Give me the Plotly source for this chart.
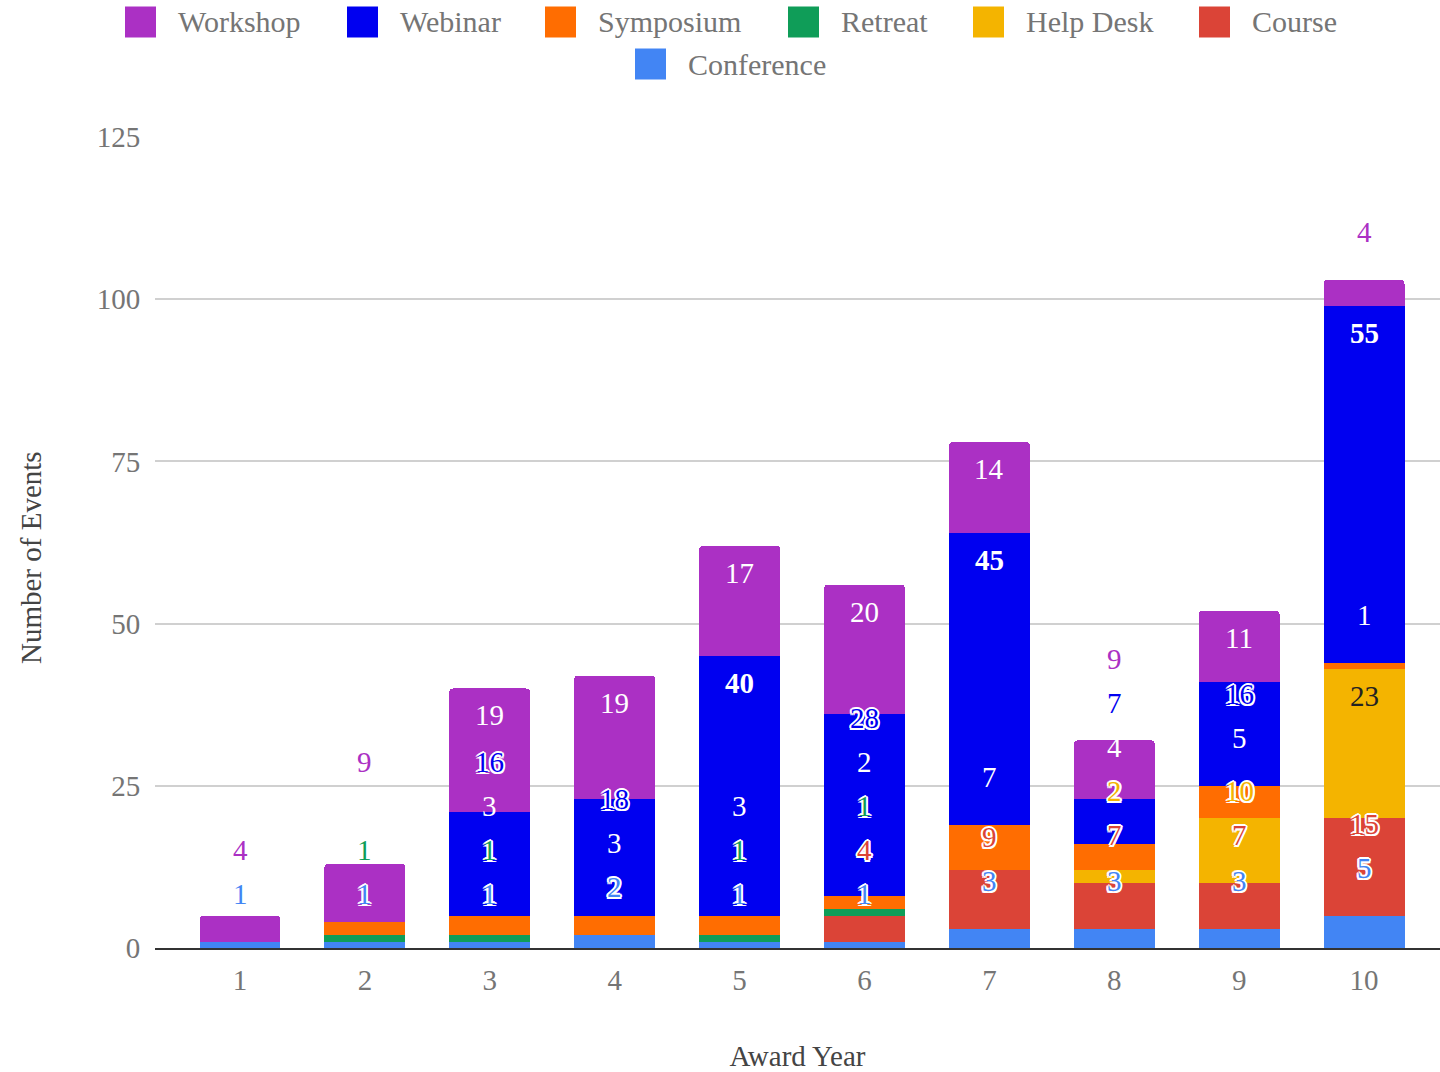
import plotly.graph_objects as go

# ---------------- data ----------------
years = [1, 2, 3, 4, 5, 6, 7, 8, 9, 10]
year_labels = ["1", "2", "3", "4", "5", "6", "7", "8", "9", "10"]

# stacking order: bottom -> top
series_names = ["Conference", "Course", "Help Desk", "Retreat", "Symposium", "Webinar", "Workshop"]
conference = [1, 1, 1, 2, 1, 1, 3, 3, 3, 5]
course     = [0, 0, 0, 0, 0, 4, 9, 7, 7, 15]
help_desk  = [0, 0, 0, 0, 0, 0, 0, 2, 10, 23]
retreat    = [0, 1, 1, 0, 1, 1, 0, 0, 0, 0]
symposium  = [0, 2, 3, 3, 3, 2, 7, 4, 5, 1]
webinar    = [0, 0, 16, 18, 40, 28, 45, 7, 16, 55]
workshop   = [4, 9, 19, 19, 17, 20, 14, 9, 11, 4]
series_values = [conference, course, help_desk, retreat, symposium, webinar, workshop]

y_ticks = [0, 25, 50, 75, 100, 125]
legend_order = ["Workshop", "Webinar", "Symposium", "Retreat", "Help Desk", "Course", "Conference"]

# ---------------- styles ----------------
colors = {
    "Conference": "#4285F4",
    "Course": "#DB4437",
    "Help Desk": "#F4B400",
    "Retreat": "#0F9D58",
    "Symposium": "#FF6D01",
    "Webinar": "#0000F0",
    "Workshop": "#AB30C4",
}
outside_label_color = dict(colors)
outside_label_color["Symposium"] = "#FFFFFF"
inside_label_color = {k: "#FFFFFF" for k in colors}
inside_label_color["Help Desk"] = "#222222"
no_halo = {"Symposium"}
bold_inside = {"Webinar"}

FONT = "Liberation Serif"
W, H = 1440, 1072
ML, MR, MT, MB = 155, 0, 137, 124
plot_w = W - ML - MR
plot_h = H - MT - MB
Y_MAX = 125
ppu = plot_h / Y_MAX  # pixels per unit

HALO = ("2px 0 0 #fff, -2px 0 0 #fff, 0 2px 0 #fff, 0 -2px 0 #fff, "
        "1.5px 1.5px 0 #fff, -1.5px -1.5px 0 #fff, 1.5px -1.5px 0 #fff, -1.5px 1.5px 0 #fff")

fig = go.Figure()
for name, vals in zip(series_names, series_values):
    fig.add_trace(go.Bar(
        x=years, y=vals, name=name,
        marker=dict(color=colors[name], line=dict(width=0)),
        showlegend=False,
        hovertemplate=name + ": %{y}<extra></extra>",
    ))

# ---------------- annotations (Google-style stacked labels) ----------------
INSIDE_MIN_PX = 50
INSIDE_OFF = 27
OUTSIDE_OFF = 48
GAP = 44
annotations = []
for i, yr in enumerate(years):
    cum = 0.0
    prev = None
    for name, vals in zip(series_names, series_values):
        v = vals[i]
        if v <= 0:
            continue
        cum += v
        top_px = cum * ppu
        seg_px = v * ppu
        fits = seg_px >= INSIDE_MIN_PX
        natural = top_px - INSIDE_OFF if fits else top_px + OUTSIDE_OFF
        center = natural if prev is None else max(natural, prev + GAP)
        pushed = center > natural + 0.5
        prev = center
        inside = fits and not pushed
        if inside:
            font = dict(family=FONT, size=29, color=inside_label_color[name],
                        weight="bold" if name in bold_inside else "normal")
        elif name in no_halo:
            font = dict(family=FONT, size=29, color=outside_label_color[name])
        else:
            font = dict(family=FONT, size=29, color=outside_label_color[name], shadow=HALO)
        annotations.append(dict(
            x=yr, y=center / ppu, xref="x", yref="y",
            text=str(v), showarrow=False, font=font,
            xanchor="center", yanchor="middle",
        ))

# ---------------- custom legend ----------------
legend_swatch_x = {"Workshop": 125, "Webinar": 347, "Symposium": 545, "Retreat": 788,
                   "Help Desk": 973, "Course": 1199, "Conference": 635}
legend_row_y = {"Workshop": 22, "Webinar": 22, "Symposium": 22, "Retreat": 22,
                "Help Desk": 22, "Course": 22, "Conference": 64}
SW = 31


def px2paper_x(px):
    return (px - ML) / plot_w


def px2paper_y(py):
    return (H - MB - py) / plot_h


shapes = []
for name in legend_order:
    sx = legend_swatch_x[name]
    cy = legend_row_y[name]
    shapes.append(dict(
        type="rect", xref="paper", yref="paper",
        x0=px2paper_x(sx), x1=px2paper_x(sx + SW),
        y0=px2paper_y(cy + SW / 2), y1=px2paper_y(cy - SW / 2),
        fillcolor=colors[name], line=dict(width=0),
    ))
    annotations.append(dict(
        x=px2paper_x(sx + SW + 20), y=px2paper_y(cy), xref="paper", yref="paper",
        text=name, showarrow=False, xanchor="left", yanchor="middle",
        font=dict(family=FONT, size=30, color="#757575"),
    ))

# y-axis title (placed slightly below the plot centre, as in the reference)
annotations.append(dict(
    x=px2paper_x(31), y=px2paper_y(558), xref="paper", yref="paper",
    text="Number of Events", textangle=-90, showarrow=False,
    xanchor="center", yanchor="middle",
    font=dict(family=FONT, size=29, color="#444444"),
))

fig.update_layout(
    width=W, height=H,
    margin=dict(l=ML, r=MR, t=MT, b=MB, autoexpand=False),
    paper_bgcolor="white", plot_bgcolor="white",
    barmode="stack", bargap=0.352, barcornerradius=4,
    font=dict(family=FONT, size=29, color="#757575"),
    showlegend=False,
    annotations=annotations,
    shapes=shapes,
    xaxis=dict(
        range=[0.3194, 10.608], tickvals=years, ticktext=year_labels,
        showgrid=False, zeroline=False,
        showline=True, linecolor="#333333", linewidth=2,
        ticks="outside", ticklen=5, tickcolor="rgba(0,0,0,0)",
        tickfont=dict(family=FONT, size=29, color="#757575"),
        title=dict(text="Award Year", standoff=51,
                   font=dict(family=FONT, size=29, color="#444444")),
        automargin=False,
    ),
    yaxis=dict(
        range=[0, Y_MAX], tickvals=y_ticks,
        showgrid=True, gridcolor="#d0d0d0", gridwidth=2,
        zeroline=False, showline=False,
        ticks="outside", ticklen=8, tickcolor="rgba(0,0,0,0)",
        tickfont=dict(family=FONT, size=29, color="#757575"),
        automargin=False,
    ),
)

fig.write_html(
    "out.html",
    config={"displayModeBar": False},
    post_script="document.body.style.margin='0';document.body.style.padding='0';"
                "document.body.style.overflow='hidden';",
)
